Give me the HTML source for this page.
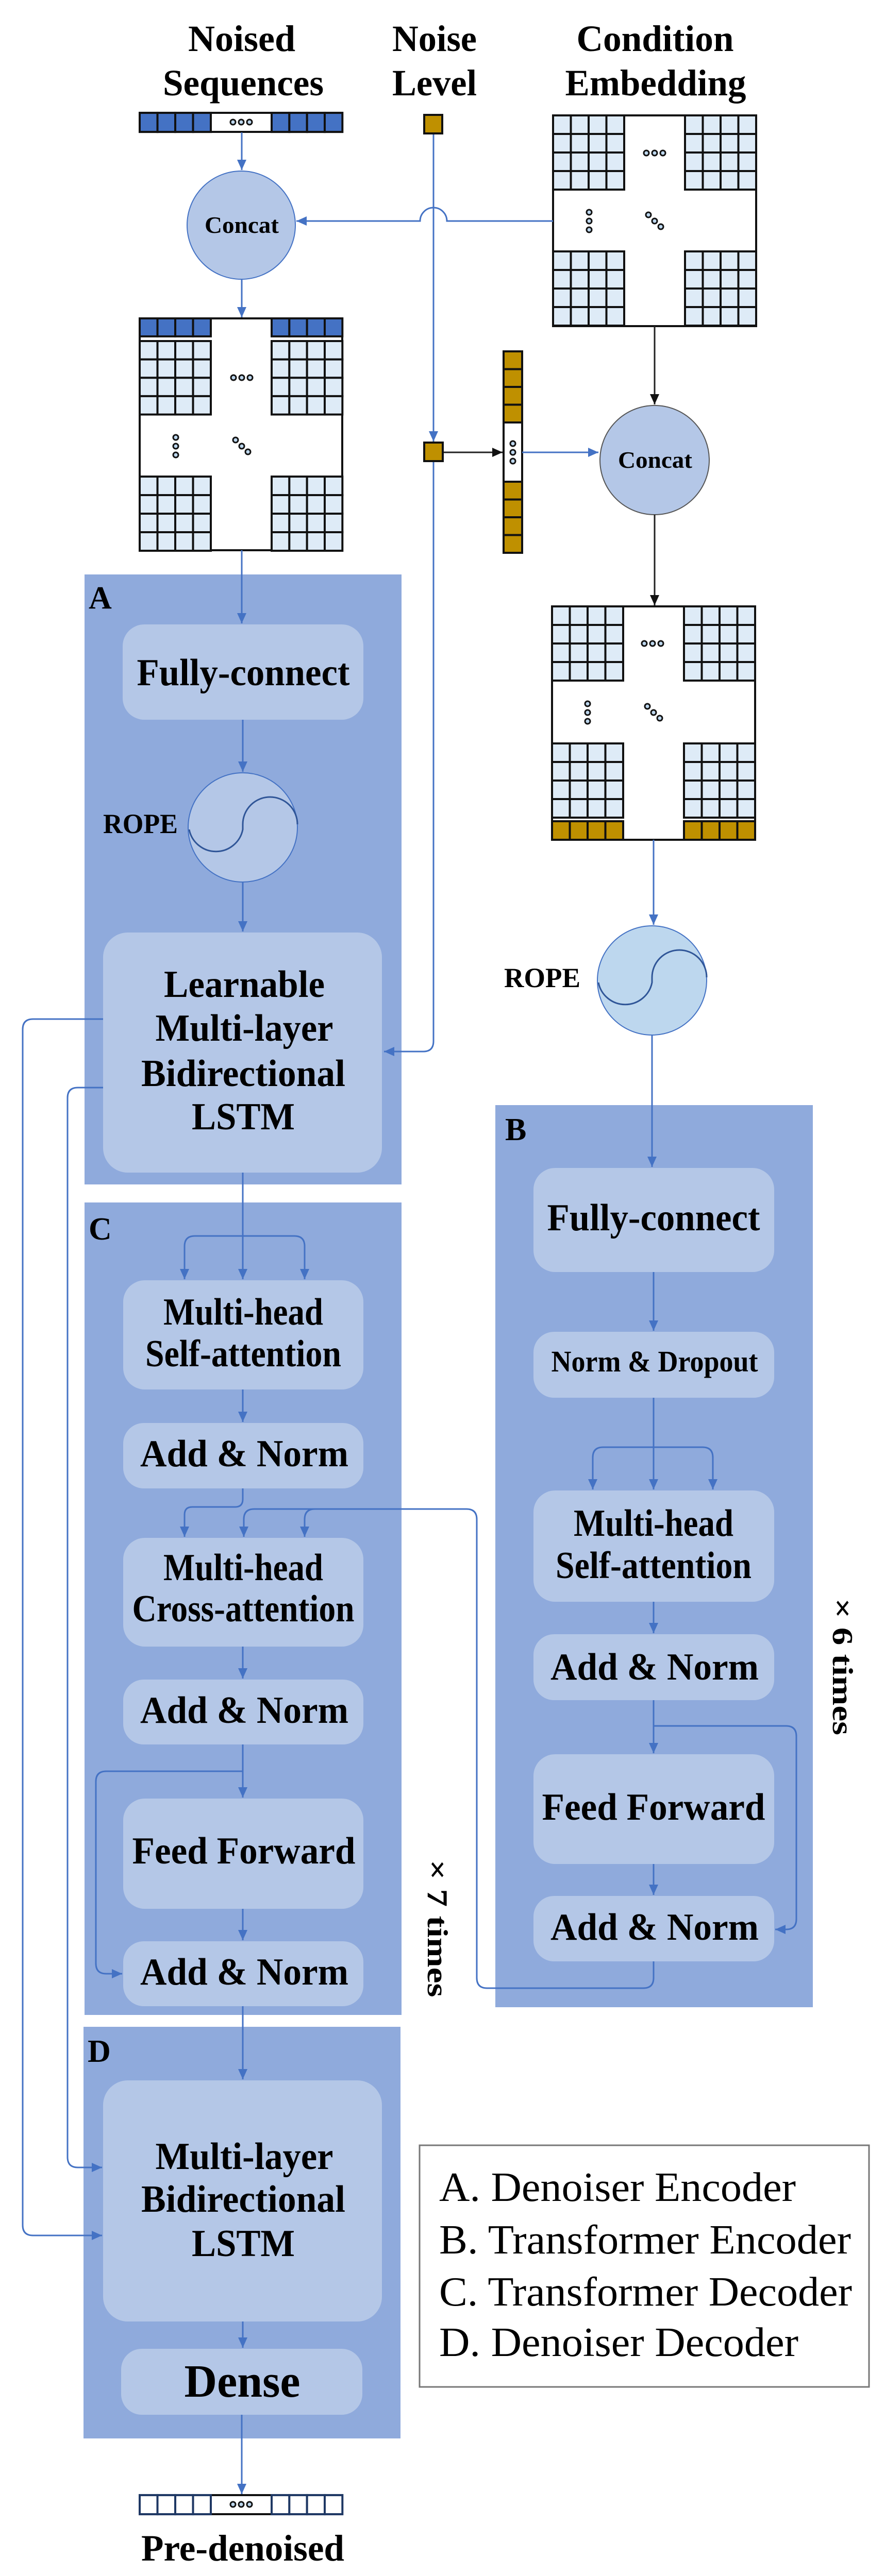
<!DOCTYPE html>
<html><head><meta charset="utf-8">
<style>
html,body{margin:0;padding:0;background:#fff;width:1717px;height:5095px;overflow:hidden;position:relative;}
svg{display:block;position:absolute;left:0;top:0;}
text{font-family:"Liberation Serif",serif;}
.b{font-weight:bold;}
</style></head>
<body>
<svg width="1717" height="5095" viewBox="0 0 1717 5095" overflow="hidden" xmlns="http://www.w3.org/2000/svg" xmlns:xlink="http://www.w3.org/1999/xlink">
<defs>
<marker id="ab" markerUnits="userSpaceOnUse" markerWidth="24" markerHeight="22" refX="20" refY="11" orient="auto">
<path d="M0,2 L20,11 L0,20 Z" fill="#4472C4"/></marker>
<marker id="ak" markerUnits="userSpaceOnUse" markerWidth="24" markerHeight="22" refX="20" refY="11" orient="auto">
<path d="M0,2 L20,11 L0,20 Z" fill="#111"/></marker>
<g id="q" fill="#DEEBF7" stroke="#111" stroke-width="4">
<rect x="0" y="0" width="34.5" height="36"/><rect x="34.5" y="0" width="34.5" height="36"/><rect x="69" y="0" width="34.5" height="36"/><rect x="103.5" y="0" width="34.5" height="36"/>
<rect x="0" y="36" width="34.5" height="36"/><rect x="34.5" y="36" width="34.5" height="36"/><rect x="69" y="36" width="34.5" height="36"/><rect x="103.5" y="36" width="34.5" height="36"/>
<rect x="0" y="72" width="34.5" height="36"/><rect x="34.5" y="72" width="34.5" height="36"/><rect x="69" y="72" width="34.5" height="36"/><rect x="103.5" y="72" width="34.5" height="36"/>
<rect x="0" y="108" width="34.5" height="36"/><rect x="34.5" y="108" width="34.5" height="36"/><rect x="69" y="108" width="34.5" height="36"/><rect x="103.5" y="108" width="34.5" height="36"/>
</g>
<g id="rb" fill="#4472C4" stroke="#111" stroke-width="4">
<rect x="0" y="0" width="34.5" height="36"/><rect x="34.5" y="0" width="34.5" height="36"/><rect x="69" y="0" width="34.5" height="36"/><rect x="103.5" y="0" width="34.5" height="36"/>
</g>
<g id="rg" fill="#BF9000" stroke="#111" stroke-width="4">
<rect x="0" y="0" width="34.5" height="36"/><rect x="34.5" y="0" width="34.5" height="36"/><rect x="69" y="0" width="34.5" height="36"/><rect x="103.5" y="0" width="34.5" height="36"/>
</g>
<g id="rw" fill="#fff" stroke="#1F3864" stroke-width="4">
<rect x="0" y="0" width="34.5" height="36"/><rect x="34.5" y="0" width="34.5" height="36"/><rect x="69" y="0" width="34.5" height="36"/><rect x="103.5" y="0" width="34.5" height="36"/>
</g>
<g id="cg" fill="#BF9000" stroke="#111" stroke-width="4">
<rect x="0" y="0" width="36" height="34.5"/><rect x="0" y="34.5" width="36" height="34.5"/><rect x="0" y="69" width="36" height="34.5"/><rect x="0" y="103.5" width="36" height="34.5"/>
</g>
<g id="dh" fill="#BDD7EE" stroke="#111" stroke-width="3"><circle cx="-16" cy="0" r="5"/><circle cx="0" cy="0" r="5"/><circle cx="16" cy="0" r="5"/></g>
<g id="dv" fill="#BDD7EE" stroke="#111" stroke-width="3"><circle cx="0" cy="-17" r="5"/><circle cx="0" cy="0" r="5"/><circle cx="0" cy="17" r="5"/></g>
<g id="dd" fill="#BDD7EE" stroke="#111" stroke-width="3"><circle cx="-12" cy="-12" r="5"/><circle cx="0" cy="0" r="5"/><circle cx="12" cy="11" r="5"/></g>
</defs>

<!-- Titles -->
<g class="b" font-size="72" text-anchor="middle" fill="#000">
<text x="469" y="99" textLength="208" lengthAdjust="spacingAndGlyphs">Noised</text>
<text x="472" y="185" textLength="312" lengthAdjust="spacingAndGlyphs">Sequences</text>
<text x="843" y="99" textLength="164" lengthAdjust="spacingAndGlyphs">Noise</text>
<text x="843" y="185" textLength="164" lengthAdjust="spacingAndGlyphs">Level</text>
<text x="1271" y="99" textLength="305" lengthAdjust="spacingAndGlyphs">Condition</text>
<text x="1272" y="185" textLength="351" lengthAdjust="spacingAndGlyphs">Embedding</text>
</g>

<!-- Panels -->
<rect x="164" y="1115" width="615" height="1184" fill="#8FAADC"/>
<rect x="961" y="2145" width="616" height="1751" fill="#8FAADC"/>
<rect x="164" y="2334" width="615" height="1577" fill="#8FAADC"/>
<rect x="162" y="3934" width="615" height="799" fill="#8FAADC"/>
<g class="b" font-size="62" fill="#000">
<text x="172" y="1181">A</text>
<text x="980" y="2213">B</text>
<text x="172" y="2406">C</text>
<text x="170" y="4002">D</text>
</g>

<!-- Boxes -->
<g fill="#B4C7E7">
<rect x="238" y="1212" width="467" height="185" rx="42"/>
<rect x="200" y="1810" width="541" height="466" rx="48"/>
<rect x="239" y="2485" width="466" height="212" rx="42"/>
<rect x="239" y="2762" width="466" height="127" rx="40"/>
<rect x="239" y="2985" width="466" height="211" rx="42"/>
<rect x="239" y="3260" width="466" height="126" rx="40"/>
<rect x="239" y="3491" width="466" height="214" rx="42"/>
<rect x="239" y="3768" width="466" height="126" rx="40"/>
<rect x="200" y="4038" width="541" height="468" rx="48"/>
<rect x="235" y="4559" width="468" height="128" rx="40"/>
<rect x="1035" y="2267" width="467" height="202" rx="42"/>
<rect x="1035" y="2585" width="467" height="128" rx="40"/>
<rect x="1035" y="2893" width="467" height="216" rx="42"/>
<rect x="1035" y="3172" width="467" height="128" rx="40"/>
<rect x="1035" y="3405" width="467" height="213" rx="42"/>
<rect x="1035" y="3680" width="467" height="127" rx="40"/>
</g>

<!-- Box text -->
<g class="b" font-size="74" text-anchor="middle" fill="#000">
<text x="472" y="1330" textLength="413" lengthAdjust="spacingAndGlyphs">Fully-connect</text>
<text x="474" y="1935" textLength="312" lengthAdjust="spacingAndGlyphs">Learnable</text>
<text x="474" y="2020" textLength="345" lengthAdjust="spacingAndGlyphs">Multi-layer</text>
<text x="472" y="2108" textLength="396" lengthAdjust="spacingAndGlyphs">Bidirectional</text>
<text x="472" y="2192" textLength="200" lengthAdjust="spacingAndGlyphs">LSTM</text>
<text x="472" y="2571" textLength="310" lengthAdjust="spacingAndGlyphs">Multi-head</text>
<text x="472" y="2652" textLength="380" lengthAdjust="spacingAndGlyphs">Self-attention</text>
<text x="474" y="2846" textLength="404" lengthAdjust="spacingAndGlyphs">Add &amp; Norm</text>
<text x="472" y="3067" textLength="310" lengthAdjust="spacingAndGlyphs">Multi-head</text>
<text x="472" y="3147" textLength="431" lengthAdjust="spacingAndGlyphs">Cross-attention</text>
<text x="474" y="3344" textLength="404" lengthAdjust="spacingAndGlyphs">Add &amp; Norm</text>
<text x="473" y="3617" textLength="433" lengthAdjust="spacingAndGlyphs">Feed Forward</text>
<text x="474" y="3852" textLength="404" lengthAdjust="spacingAndGlyphs">Add &amp; Norm</text>
<text x="474" y="4210" textLength="345" lengthAdjust="spacingAndGlyphs">Multi-layer</text>
<text x="472" y="4293" textLength="396" lengthAdjust="spacingAndGlyphs">Bidirectional</text>
<text x="472" y="4379" textLength="200" lengthAdjust="spacingAndGlyphs">LSTM</text>
<text x="470" y="4652" textLength="225" lengthAdjust="spacingAndGlyphs" font-size="90">Dense</text>
<text x="1268" y="2388" textLength="413" lengthAdjust="spacingAndGlyphs">Fully-connect</text>
<text x="1270" y="2662" textLength="401" lengthAdjust="spacingAndGlyphs" font-size="58">Norm &amp; Dropout</text>
<text x="1268" y="2981" textLength="310" lengthAdjust="spacingAndGlyphs">Multi-head</text>
<text x="1268" y="3063" textLength="380" lengthAdjust="spacingAndGlyphs">Self-attention</text>
<text x="1270" y="3260" textLength="404" lengthAdjust="spacingAndGlyphs">Add &amp; Norm</text>
<text x="1268" y="3532" textLength="433" lengthAdjust="spacingAndGlyphs">Feed Forward</text>
<text x="1270" y="3765" textLength="404" lengthAdjust="spacingAndGlyphs">Add &amp; Norm</text>
<text x="471" y="4970" textLength="394" lengthAdjust="spacingAndGlyphs" font-size="72">Pre-denoised</text>
<text x="471" y="5057" textLength="312" lengthAdjust="spacingAndGlyphs" font-size="72">Sequences</text>
</g>

<!-- repeat labels -->
<g class="b" font-size="56" text-anchor="middle" fill="#000">
<text transform="translate(848,3743) rotate(90)" dominant-baseline="central" textLength="267" lengthAdjust="spacingAndGlyphs">× 7 times</text>
<text transform="translate(1634,3235) rotate(90)" dominant-baseline="central" textLength="266" lengthAdjust="spacingAndGlyphs">× 6 times</text>
</g>

<!-- Legend -->
<rect x="814" y="4164" width="872" height="469" fill="#fff" stroke="#777" stroke-width="3"/>
<g font-size="80" fill="#000">
<text x="852" y="4272" textLength="692" lengthAdjust="spacingAndGlyphs">A. Denoiser Encoder</text>
<text x="852" y="4374" textLength="799" lengthAdjust="spacingAndGlyphs">B. Transformer Encoder</text>
<text x="852" y="4475" textLength="801" lengthAdjust="spacingAndGlyphs">C. Transformer Decoder</text>
<text x="852" y="4573" textLength="697" lengthAdjust="spacingAndGlyphs">D. Denoiser Decoder</text>
</g>

<!-- Concat circles -->
<circle cx="468" cy="437" r="105" fill="#B4C7E7" stroke="#4472C4" stroke-width="2"/>
<circle cx="1270" cy="893" r="106" fill="#B4C7E7" stroke="#555" stroke-width="2"/>
<g class="b" font-size="46" text-anchor="middle" fill="#000">
<text x="469" y="452" textLength="144" lengthAdjust="spacingAndGlyphs">Concat</text>
<text x="1271" y="908" textLength="144" lengthAdjust="spacingAndGlyphs">Concat</text>
</g>

<!-- ROPE -->
<circle cx="471" cy="1606" r="106" fill="#B4C7E7" stroke="#4472C4" stroke-width="2"/>
<path d="M577,1600 A53,53 0 0 0 471,1600 L471,1610 A53,53 0 0 1 367,1610" fill="none" stroke="#2F5597" stroke-width="3"/>
<circle cx="1265" cy="1903" r="106" fill="#BDD7EE" stroke="#4472C4" stroke-width="2"/>
<path d="M1371,1897 A53,53 0 0 0 1265,1897 L1265,1907 A53,53 0 0 1 1161,1907" fill="none" stroke="#2F5597" stroke-width="3"/>
<g class="b" font-size="54" fill="#000">
<text x="200" y="1617" textLength="145" lengthAdjust="spacingAndGlyphs">ROPE</text>
<text x="978" y="1916" textLength="148" lengthAdjust="spacingAndGlyphs">ROPE</text>
</g>

<!-- Noised bar -->
<rect x="271" y="219" width="393" height="37" fill="#fff" stroke="#111" stroke-width="4"/>
<use xlink:href="#rb" href="#rb" transform="translate(271,219) scale(1,1.03)"/>
<use xlink:href="#rb" href="#rb" transform="translate(527,219) scale(0.995,1.03)"/>
<use xlink:href="#dh" href="#dh" transform="translate(468,237)" style="fill:#1F3864;stroke:#1F3864"/>

<!-- Condition grid -->
<rect x="1073" y="224" width="394" height="409" fill="#fff" stroke="#111" stroke-width="4"/>
<use xlink:href="#q" href="#q" x="1073" y="224"/>
<use xlink:href="#q" href="#q" x="1329" y="224"/>
<use xlink:href="#q" href="#q" x="1073" y="488"/>
<use xlink:href="#q" href="#q" x="1329" y="488"/>
<use xlink:href="#dh" href="#dh" x="1270" y="297"/>
<use xlink:href="#dv" href="#dv" x="1143" y="429"/>
<use xlink:href="#dd" href="#dd" x="1270" y="429"/>

<!-- Grid 2 -->
<rect x="271" y="618" width="393" height="450" fill="#fff" stroke="#111" stroke-width="4"/>
<use xlink:href="#rb" href="#rb" transform="translate(271,618) scale(1,0.97)"/>
<use xlink:href="#rb" href="#rb" transform="translate(527,618) scale(0.995,0.97)"/>
<use xlink:href="#q" href="#q" transform="translate(271,662) scale(1,0.99)"/>
<use xlink:href="#q" href="#q" transform="translate(527,662) scale(0.995,0.99)"/>
<use xlink:href="#q" href="#q" transform="translate(271,925)"/>
<use xlink:href="#q" href="#q" transform="translate(527,925) scale(0.995,1)"/>
<use xlink:href="#dh" href="#dh" x="469" y="733"/>
<use xlink:href="#dv" href="#dv" x="341" y="866"/>
<use xlink:href="#dd" href="#dd" x="469" y="866"/>

<!-- Grid 3 -->
<rect x="1071" y="1177" width="394" height="453" fill="#fff" stroke="#111" stroke-width="4"/>
<use xlink:href="#q" href="#q" x="1071" y="1177"/>
<use xlink:href="#q" href="#q" x="1327" y="1177"/>
<use xlink:href="#q" href="#q" x="1071" y="1443"/>
<use xlink:href="#q" href="#q" x="1327" y="1443"/>
<use xlink:href="#rg" href="#rg" x="1071" y="1594"/>
<use xlink:href="#rg" href="#rg" x="1327" y="1594"/>
<use xlink:href="#dh" href="#dh" x="1266" y="1249"/>
<use xlink:href="#dv" href="#dv" x="1140" y="1383"/>
<use xlink:href="#dd" href="#dd" x="1268" y="1383"/>

<!-- Gold vertical bar -->
<rect x="977" y="682" width="36" height="391" fill="#fff" stroke="#111" stroke-width="4"/>
<use xlink:href="#cg" href="#cg" x="977" y="682"/>
<use xlink:href="#cg" href="#cg" x="977" y="935"/>
<use xlink:href="#dv" href="#dv" x="995" y="878" style="fill:#fff"/>

<!-- Output bar -->
<rect x="271" y="4843" width="393" height="37" fill="#fff" stroke="#111" stroke-width="4"/>
<use xlink:href="#rw" href="#rw" transform="translate(271,4843) scale(1,1.03)"/>
<use xlink:href="#rw" href="#rw" transform="translate(527,4843) scale(0.995,1.03)" style="stroke:#111"/>
<use xlink:href="#dh" href="#dh" transform="translate(468,4861)" style="fill:#fff;stroke:#1F3864"/>

<!-- Connectors blue -->
<g fill="none" stroke="#4472C4" stroke-width="3">
<path d="M469,257 V330" marker-end="url(#ab)"/>
<path d="M1073,429 H867 A26,26 0 0 0 815,429 H575" marker-end="url(#ab)"/>
<path d="M469,543 V616" marker-end="url(#ab)"/>
<path d="M841,260 V857" marker-end="url(#ab)"/>
<path d="M841,895 V2021 Q841,2041 821,2041 H745" marker-end="url(#ab)"/>
<path d="M1013,878 H1161" marker-end="url(#ab)"/>
<path d="M1268,1630 V1795" marker-end="url(#ab)"/>
<path d="M1265,2009 V2265" marker-end="url(#ab)"/>
<path d="M469,1068 V1210" marker-end="url(#ab)"/>
<path d="M471,1397 V1498" marker-end="url(#ab)"/>
<path d="M471,1712 V1808" marker-end="url(#ab)"/>
<path d="M200,1978 H64 Q44,1978 44,1998 V4319 Q44,4339 64,4339 H198" marker-end="url(#ab)"/>
<path d="M200,2111 H151 Q131,2111 131,2131 V4187 Q131,4207 151,4207 H198" marker-end="url(#ab)"/>
<path d="M471,2276 V2483" marker-end="url(#ab)"/>
<path d="M378,2399 H571 Q591,2399 591,2419 V2483" marker-end="url(#ab)"/>
<path d="M378,2399 Q358,2399 358,2419 V2483" marker-end="url(#ab)"/>
<path d="M471,2697 V2760" marker-end="url(#ab)"/>
<path d="M471,2889 V2910 Q471,2925 456,2925 H373 Q358,2925 358,2940 V2983" marker-end="url(#ab)"/>
<path d="M1268,3807 V3839 Q1268,3859 1248,3859 H945 Q925,3859 925,3839 V2949 Q925,2929 905,2929 H493 Q473,2929 473,2949 V2983" marker-end="url(#ab)"/>
<path d="M611,2929 Q591,2929 591,2949 V2983" marker-end="url(#ab)"/>
<path d="M471,3196 V3258" marker-end="url(#ab)"/>
<path d="M471,3386 V3489" marker-end="url(#ab)"/>
<path d="M471,3705 V3766" marker-end="url(#ab)"/>
<path d="M471,3438 H206 Q186,3438 186,3458 V3811 Q186,3831 206,3831 H237" marker-end="url(#ab)"/>
<path d="M471,3894 V4036" marker-end="url(#ab)"/>
<path d="M471,4506 V4557" marker-end="url(#ab)"/>
<path d="M469,4687 V4841" marker-end="url(#ab)"/>
<path d="M1268,2469 V2583" marker-end="url(#ab)"/>
<path d="M1268,2713 V2891" marker-end="url(#ab)"/>
<path d="M1170,2809 H1363 Q1383,2809 1383,2829 V2891" marker-end="url(#ab)"/>
<path d="M1170,2809 Q1150,2809 1150,2829 V2891" marker-end="url(#ab)"/>
<path d="M1268,3109 V3170" marker-end="url(#ab)"/>
<path d="M1268,3300 V3403" marker-end="url(#ab)"/>
<path d="M1268,3350 H1525 Q1545,3350 1545,3370 V3725 Q1545,3745 1525,3745 H1504" marker-end="url(#ab)"/>
<path d="M1268,3618 V3678" marker-end="url(#ab)"/>
</g>
<g fill="none" stroke="#222" stroke-width="3">
<path d="M1270,633 V785" marker-end="url(#ak)"/>
<path d="M1270,999 V1175" marker-end="url(#ak)"/>
<path d="M859,878 H975" marker-end="url(#ak)"/>
</g>

<!-- Noise squares -->
<rect x="823" y="223" width="35" height="36" fill="#BF9000" stroke="#111" stroke-width="4"/>
<rect x="823" y="859" width="36" height="36" fill="#BF9000" stroke="#111" stroke-width="4"/>
</svg>
</body></html>
